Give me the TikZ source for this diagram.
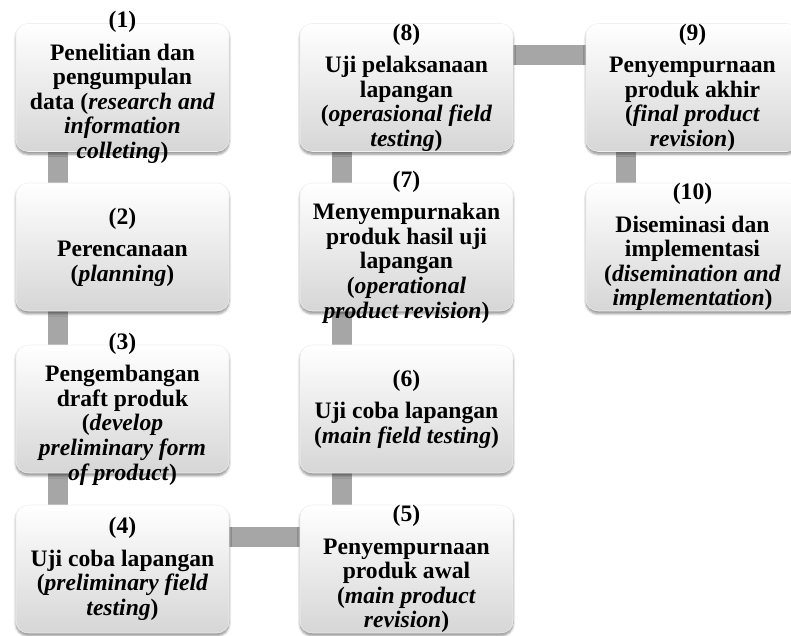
\documentclass[tikz,border=0pt]{standalone}
\usepackage{fontspec}
\setmainfont{Liberation Serif}
\usepackage{xcolor}
\usetikzlibrary{calc,backgrounds,shadows.blur}
\definecolor{bargray}{RGB}{166,166,166}
\definecolor{boxgray}{RGB}{214,214,214}
\tikzset{
  stagebox/.style={rounded corners=9pt, minimum width=159.75pt, minimum height=96pt,
    inner sep=0pt, outer sep=0pt, top color=white, bottom color=boxgray, draw=black!6,
    blur shadow={shadow xshift=0pt, shadow yshift=-2pt, shadow blur steps=6, shadow opacity=45}},
  stagetext/.style={align=center, inner sep=0pt, font=\fontsize{17.7pt}{18.4pt}\selectfont\bfseries},
  bar/.style={draw=bargray, line width=15pt}
}

\begin{document}
\begin{tikzpicture}[x=0.75pt, y=-0.75pt]
  \clip (0,0) rectangle (791,635);

  % Column 1
  \node[stagebox] (b1) at (122.5,87.5) {};
  \node[stagebox] (b2) at (122.5,247) {};
  \node[stagebox] (b3) at (122.5,409) {};
  \node[stagebox] (b4) at (122.5,569) {};
  % Column 2
  \node[stagebox] (b5) at (406.5,569) {};
  \node[stagebox] (b6) at (406.5,409) {};
  \node[stagebox] (b7) at (406.5,247) {};
  \node[stagebox] (b8) at (406.5,87.5) {};
  % Column 3
  \node[stagebox] (b9) at (692.5,87.5) {};
  \node[stagebox] (b10) at (692.5,247) {};

  % Texts
  \node[stagetext] (t1) at (b1) {(1)\\[6pt]Penelitian dan\\pengumpulan\\data (\textit{research and}\\\textit{information}\\\textit{colleting})};
  \node[stagetext] (t2) at (b2) {(2)\\[6pt]Perencanaan\\(\textit{planning})};
  \node[stagetext] (t3) at (b3) {(3)\\[6pt]Pengembangan\\draft produk\\(\textit{develop}\\\textit{preliminary form}\\\textit{of product})};
  \node[stagetext] (t4) at (b4) {(4)\\[6pt]Uji coba lapangan\\(\textit{preliminary field}\\\textit{testing})};
  \node[stagetext] (t5) at (b5) {(5)\\[6pt]Penyempurnaan\\produk awal\\(\textit{main product}\\\textit{revision})};
  \node[stagetext] (t6) at (b6) {(6)\\[6pt]Uji coba lapangan\\(\textit{main field testing})};
  \node[stagetext] (t7) at (b7) {(7)\\[6pt]Menyempurnakan\\produk hasil uji\\lapangan\\(\textit{operational}\\\textit{product revision})};
  \node[stagetext] (t8) at (b8) {(8)\\[6pt]Uji pelaksanaan\\lapangan\\(\textit{operasional field}\\\textit{testing})};
  \node[stagetext] (t9) at (b9) {(9)\\[6pt]Penyempurnaan\\produk akhir\\(\textit{final product}\\\textit{revision})};
  \node[stagetext] (t10) at (b10) {(10)\\[6pt]Diseminasi dan\\implementasi\\(\textit{disemination and}\\\textit{implementation})};

  % Connectors
  \begin{scope}[on background layer]
    \draw[bar] ($(b1.south west)+(42,0)$) -- ($(b2.north west)+(42,0)$);
    \draw[bar] ($(b2.south west)+(42,0)$) -- ($(b3.north west)+(42,0)$);
    \draw[bar] ($(b3.south west)+(42,0)$) -- ($(b4.north west)+(42,0)$);
    \draw[bar] ($(b4.north east)+(0,32)$) -- ($(b5.north west)+(0,32)$);
    \draw[bar] ($(b5.north west)+(42,0)$) -- ($(b6.south west)+(42,0)$);
    \draw[bar] ($(b6.north west)+(42,0)$) -- ($(b7.south west)+(42,0)$);
    \draw[bar] ($(b7.north west)+(42,0)$) -- ($(b8.south west)+(42,0)$);
    \draw[bar] ($(b8.north east)+(0,32)$) -- ($(b9.north west)+(0,32)$);
    \draw[bar] ($(b9.south west)+(40,0)$) -- ($(b10.north west)+(40,0)$);
  \end{scope}
\end{tikzpicture}
\end{document}
